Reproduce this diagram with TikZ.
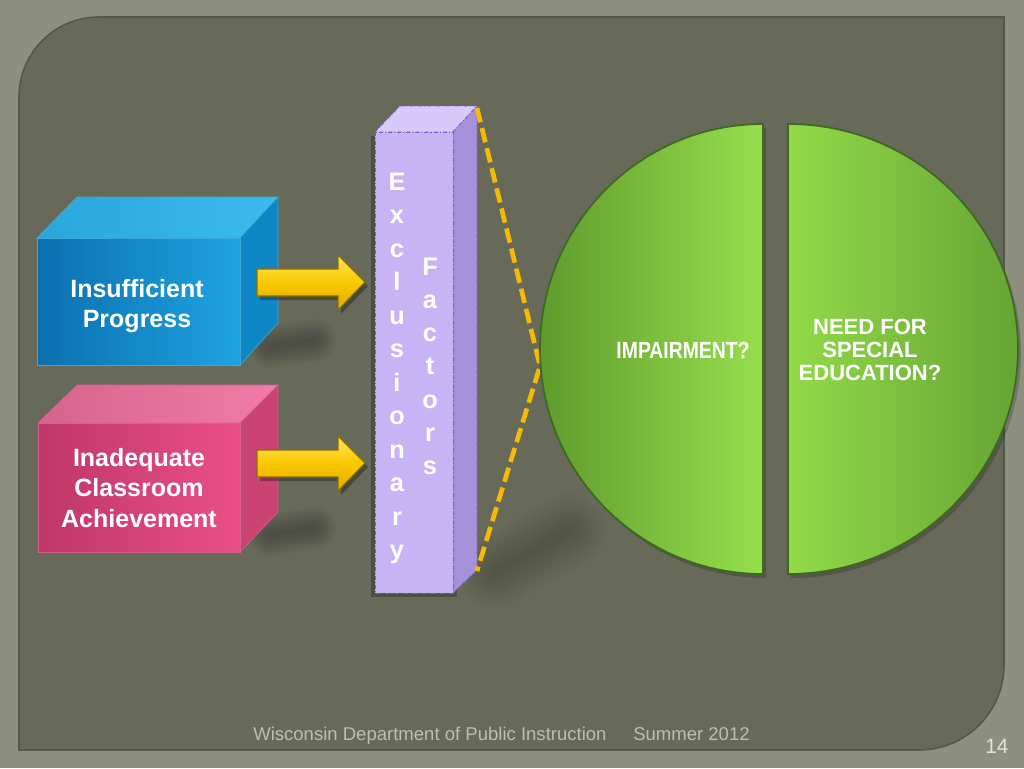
\documentclass[tikz,border=0pt]{standalone}
\usepackage{fontspec}
\setmainfont{Liberation Sans}
\usetikzlibrary{calc}
\definecolor{outerbg}{HTML}{8D8F7F}
\definecolor{panelbg}{HTML}{676959}
\definecolor{paneledge}{HTML}{55574A}
\definecolor{blueL}{HTML}{0B6FAF}
\definecolor{blueR}{HTML}{1EA4E0}
\definecolor{blueTopL}{HTML}{2AA6DA}
\definecolor{blueTopR}{HTML}{3ABBEE}
\definecolor{blueSide}{HTML}{0F87C5}
\definecolor{blueEdge}{HTML}{3CA9D8}
\definecolor{pinkL}{HTML}{BE3769}
\definecolor{pinkR}{HTML}{EA4F88}
\definecolor{pinkTopL}{HTML}{D5648D}
\definecolor{pinkTopR}{HTML}{F27CA7}
\definecolor{pinkSide}{HTML}{C94472}
\definecolor{pinkEdge}{HTML}{D8608E}
\definecolor{arrowtop}{HTML}{FFE65C}
\definecolor{arrowmid}{HTML}{F9C800}
\definecolor{arrowbot}{HTML}{E2A800}
\definecolor{arrowedge}{HTML}{8C6E00}
\definecolor{pilFront}{HTML}{C8B4F4}
\definecolor{pilSide}{HTML}{A591D9}
\definecolor{pilTop}{HTML}{D7C9FA}
\definecolor{pilEdge}{HTML}{7A5CC2}
\definecolor{calloutc}{HTML}{F4BA06}
\definecolor{greenDark}{HTML}{5F9B2D}
\definecolor{greenLight}{HTML}{97DF4D}
\definecolor{greenLight2}{HTML}{92DA49}
\definecolor{greenDark2}{HTML}{66A434}
\definecolor{greenEdge}{HTML}{3D6A1E}
\definecolor{foottext}{HTML}{BDBEB1}
\definecolor{pagetext}{HTML}{E4E4D6}
\newcommand{\mysoftblob}[3]{%
  \foreach \k in {1,...,10}{\path[draw=black, draw opacity=#1, line width={\k*#2}, line cap=round, line join=round] #3;}}
\begin{document}
\begin{tikzpicture}[x=0.75pt,y=-0.75pt,
  boxtext/.style={text=white, font=\bfseries\fontsize{18.75}{22}\selectfont, align=center, inner sep=0pt},
  pletter/.style={text=white, font=\bfseries\fontsize{19}{19}\selectfont, anchor=base, inner sep=0pt},
  blockarrow/.style={top color=arrowtop, bottom color=arrowbot, middle color=arrowmid, draw=arrowedge, line width=0.8pt},
  arrowshadow/.style={fill=black, opacity=0.3},
  callout/.style={draw=calloutc, line width=3.5pt, dash pattern=on 11pt off 4.5pt, line join=miter},
  pilface/.style={draw=pilEdge, line width=0.6pt, dash pattern=on 3pt off 1.5pt on 0.8pt off 1.5pt},
  greenhalf/.style={draw=greenEdge, line width=1.3pt},
  circtext/.style={text=white, font=\bfseries\fontsize{16.5}{17.3}\selectfont, align=center, inner sep=0pt},
  foot/.style={text=foottext, font=\fontsize{13.9}{16}\selectfont, anchor=base west, inner sep=0pt}]
\useasboundingbox (0,0) rectangle (1024,768);
% background
\fill[outerbg] (0,0) rectangle (1024,768);
\path[fill=panelbg, draw=paneledge, line width=1.2pt]
  (19,97) .. controls (19,52.8) and (54.8,17) .. (99,17) -- (1004,17) -- (1004,665)
  .. controls (1004,711.9) and (965.9,750) .. (919,750) -- (19,750) -- cycle;

% soft shadows
\mysoftblob{0.022}{3.2pt}{(270,347) -- (315,340)}
\mysoftblob{0.022}{3.2pt}{(270,535) -- (315,528)}
\mysoftblob{0.014}{5.5pt}{(495,572) -- (570,530)}

% blue box
\coordinate (bA) at (37,238); \coordinate (bB) at (240,238);
\coordinate (bC) at (240,365); \coordinate (bD) at (37,365);
\coordinate (bE) at (77,197);  \coordinate (bF) at (278,197);
\coordinate (bG) at (278,323);
\path[left color=blueTopL, right color=blueTopR, draw=blueEdge, line width=0.5pt] (bA) -- (bE) -- (bF) -- (bB) -- cycle;
\path[fill=blueSide, draw=blueEdge, line width=0.5pt] (bB) -- (bF) -- (bG) -- (bC) -- cycle;
\path[left color=blueL, right color=blueR, draw=blueEdge, line width=0.5pt] (bA) rectangle (bC);
\node[boxtext] (insuff) at (137,306) {Insufficient\\Progress};

% pink box
\coordinate (pA) at (38,423); \coordinate (pB) at (240,423);
\coordinate (pC) at (240,552); \coordinate (pD) at (38,552);
\coordinate (pE) at (77,385);  \coordinate (pF) at (278,385);
\coordinate (pG) at (278,512);
\path[left color=pinkTopL, right color=pinkTopR, draw=pinkEdge, line width=0.5pt] (pA) -- (pE) -- (pF) -- (pB) -- cycle;
\path[fill=pinkSide, draw=pinkEdge, line width=0.5pt] (pB) -- (pF) -- (pG) -- (pC) -- cycle;
\path[left color=pinkL, right color=pinkR, draw=pinkEdge, line width=0.5pt] (pA) rectangle (pC);
\node[boxtext, font=\bfseries\fontsize{18.75}{22.8}\selectfont] (inadeq) at (139,488) {Inadequate\\Classroom\\Achievement};

% block arrows
\path[arrowshadow] (260,273) -- (341,273) -- (341,259) -- (368,286) -- (341,314) -- (341,300) -- (260,300) -- cycle;
\path[blockarrow] (257,269) -- (338,269) -- (338,255) -- (365,282) -- (338,310) -- (338,296) -- (257,296) -- cycle;
\path[arrowshadow] (260,454) -- (341,454) -- (341,440) -- (368,467) -- (341,495) -- (341,481) -- (260,481) -- cycle;
\path[blockarrow] (257,450) -- (338,450) -- (338,436) -- (365,463) -- (338,491) -- (338,477) -- (257,477) -- cycle;

% pillar
\coordinate (qA) at (375,132); \coordinate (qB) at (453,132);
\coordinate (qC) at (453,593); \coordinate (qD) at (375,593);
\coordinate (qE) at (400,106); \coordinate (qF) at (477,106);
\coordinate (qG) at (477,570);
\path[fill=black, opacity=0.25] (371,136) rectangle (457,597);
\path[fill=pilTop, pilface] (qA) -- (qE) -- (qF) -- (qB) -- cycle;
\path[fill=pilSide, pilface] (qB) -- (qF) -- (qG) -- (qC) -- cycle;
\path[fill=pilFront, pilface] (qA) rectangle (qC);
\foreach \ch [count=\i] in {E,x,c,l,u,s,i,o,n,a,r,y}
  \node[pletter] (ex\i) at (397, {190+33.5*(\i-1)}) {\ch};
\foreach \ch [count=\i] in {F,a,c,t,o,r,s}
  \node[pletter] (fa\i) at (430, {275+33.33*(\i-1)}) {\ch};

% callout lines
\coordinate (cTop) at (477,108);
\coordinate (cMid) at (540,366);
\coordinate (cBot) at (477,571);
\draw[callout] (cTop) -- (cMid) -- (cBot);

% green halves
\path[fill=black, opacity=0.18] (766,128) .. controls (642.8,128) and (543,228.7) .. (543,353)
  .. controls (543,477.3) and (642.8,578) .. (766,578) -- cycle;
\path[fill=black, opacity=0.18] (791,128) .. controls (918,128) and (1021,228.7) .. (1021,353)
  .. controls (1021,477.3) and (918,578) .. (791,578) -- cycle;
\path[greenhalf, left color=greenDark, right color=greenLight]
  (763,124) .. controls (639.8,124) and (540,224.7) .. (540,349)
  .. controls (540,473.3) and (639.8,574) .. (763,574) -- cycle;
\path[greenhalf, left color=greenLight2, right color=greenDark2]
  (788,124) .. controls (915,124) and (1018,224.7) .. (1018,349)
  .. controls (1018,473.3) and (915,574) .. (788,574) -- cycle;
\node[circtext, font=\bfseries\fontsize{17.5}{18}\selectfont] (impair) at (683,350) {\scalebox{0.83}[1]{IMPAIRMENT?}};
\node[circtext] (need) at (870,350) {NEED FOR\\SPECIAL\\EDUCATION?};

% footer
\node[foot] (foot1) at (253,740) {Wisconsin Department of Public Instruction};
\node[foot] (foot2) at (633,740) {Summer 2012};
\node[foot, text=pagetext, font=\fontsize{15.5}{17}\selectfont] (pagenum) at (985,753) {14};
\end{tikzpicture}
\end{document}
